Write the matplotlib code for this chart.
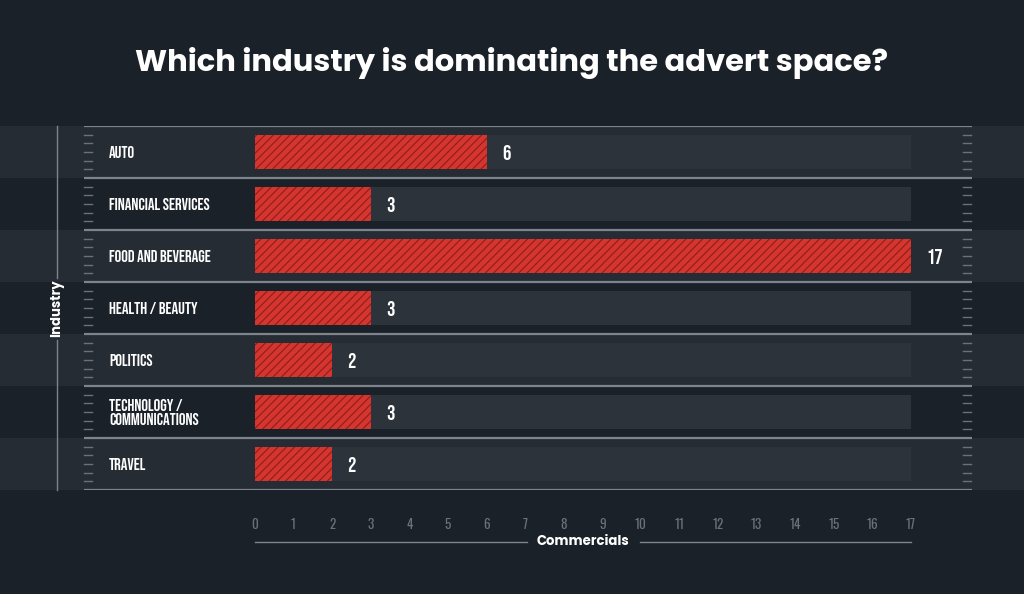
import numpy as np
import matplotlib.pyplot as plt

# data
categories = ["AUTO", "FINANCIAL SERVICES", "FOOD AND BEVERAGE", "HEALTH / BEAUTY",
              "POLITICS", "TECHNOLOGY /\nCOMMUNICATIONS", "TRAVEL"]
commercials = [6, 3, 17, 3, 2, 3, 2]
x_ticks = list(range(0, 18))
x_max = 17

title = "Which industry is dominating the advert space?"
x_title = "Commercials"
y_title = "Industry"

# colours
bg = "#1b2129"
band_light = "#252c33"
track = "#2c333a"
bar_red = "#d5352e"
hatch_red = "#8a1f1c"
line_grey = "#7d848b"
tick_grey = "#6a7279"

W, H = 1024, 594
plt.rcParams['hatch.linewidth'] = 0.8
cond = ['Bebas Neue', 'DejaVu Sans']
head = ['Poppins', 'Open Sans', 'DejaVu Sans']

fig = plt.figure(figsize=(W / 100, H / 100), dpi=100, facecolor=bg)

top_px, bot_px = 126, 490
n = len(categories)
b = 1 - bot_px / H
h = (bot_px - top_px) / H

# background layer (pixel x coords, category y coords)
bgax = fig.add_axes([0, b, 1, h])
bgax.set_xlim(0, W)
bgax.set_ylim(n - 0.5, -0.5)
bgax.axis('off')
for i in range(n):
    if i % 2 == 0:
        bgax.axhspan(i - 0.5, i + 0.5, color=band_light, lw=0, zorder=0)
for i in range(n + 1):
    bgax.plot([84, 972], [i - 0.5, i - 0.5], color=line_grey, lw=1.6, zorder=2,
              solid_capstyle='butt')
    if i < n:
        for k in range(1, 6):
            yy = i - 0.5 + k / 6
            bgax.plot([84, 92], [yy, yy], color=tick_grey, lw=1, zorder=2)
            bgax.plot([963, 971], [yy, yy], color=tick_grey, lw=1, zorder=2)
        bgax.text(109, i, categories[i], color="white", fontsize=12,
                  family=cond, va='center', ha='left', linespacing=1.1)

# main bar axes
ax = fig.add_axes([255 / W, b, (911 - 255) / W, h])
ax.patch.set_alpha(0)
y = np.arange(n)
ax.barh(y, [x_max] * n, height=0.64, color=track, lw=0, zorder=1)
ax.barh(y, commercials, height=0.64, color=bar_red, edgecolor=hatch_red,
        hatch='////', lw=0, zorder=2)
for yi, v in zip(y, commercials):
    ax.annotate(str(v), (v, yi), xytext=(11, 0), textcoords='offset points',
                color='white', fontsize=15, family=cond,
                va='center', ha='left')
ax.set_xlim(0, x_max)
ax.set_ylim(n - 0.5, -0.5)
ax.set_yticks([])
ax.set_xticks(x_ticks)
ax.tick_params(axis='x', length=0, pad=20, colors=tick_grey, labelsize=9.5)
for lbl in ax.get_xticklabels():
    lbl.set_family(['Oswald', 'DejaVu Sans'])
    lbl.set_fontweight('light')
for s in ax.spines.values():
    s.set_visible(False)

# title and axis titles
fig.text(0.5, 1 - 63 / H, title, color='white', fontsize=22, fontweight='bold',
         family=head, ha='center', va='center')
fig.text(583 / W, 1 - 542 / H, x_title, color='white', fontsize=9.5, fontweight='bold',
         family=head, ha='center', va='center')
fig.add_artist(plt.Line2D([255 / W, 527 / W], [1 - 542 / H] * 2, color=line_grey, lw=1))
fig.add_artist(plt.Line2D([640 / W, 911 / W], [1 - 542 / H] * 2, color=line_grey, lw=1))
fig.text(57 / W, 1 - 308 / H, y_title, color='white', fontsize=9.5, fontweight='bold',
         family=head, rotation=90, ha='center', va='center')
fig.add_artist(plt.Line2D([57 / W] * 2, [1 - 126 / H, 1 - 278 / H], color=line_grey, lw=1))
fig.add_artist(plt.Line2D([57 / W] * 2, [1 - 340 / H, 1 - 490 / H], color=line_grey, lw=1))

fig.savefig("out.png", dpi=100, facecolor=bg)
